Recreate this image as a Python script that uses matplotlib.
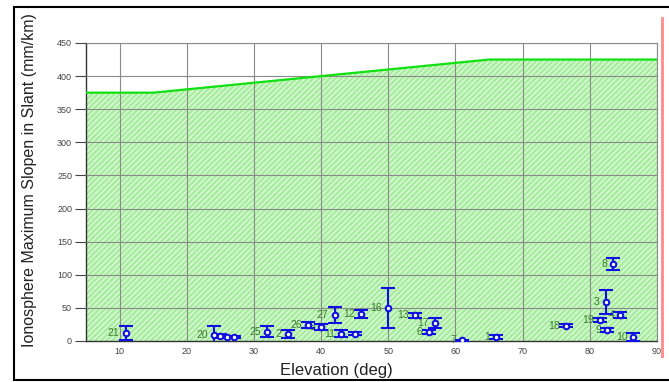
import matplotlib
matplotlib.use("Agg")
import matplotlib.pyplot as plt
from matplotlib.lines import Line2D
from matplotlib.patches import Rectangle

plt.rcParams['font.family'] = ['Liberation Sans', 'DejaVu Sans']
plt.rcParams['hatch.linewidth'] = 0.8

# Bound (upper limit of the shaded region)
bound_elev = [5, 15, 65, 90]
bound_val = [375, 375, 425, 425]

# Measured points
labels = ["21", "20", "24", "22", "23", "25", "2", "26", "5", "27", "12", "11", "14",
          "16", "13", "17", "6", "7", "1", "18", "19", "3", "8", "4", "9", "10"]
elev = [10.9, 24.0, 25.0, 26.0, 27.0, 32.0, 35.0, 38.0, 40.0, 42.0, 46.0, 43.0, 45.0,
        50.0, 54.0, 57.0, 56.0, 61.0, 66.0, 76.5, 81.5, 82.4, 83.5, 84.5, 82.6, 86.5]
slope = [12, 9, 7, 6, 6, 14, 11, 24, 21, 39, 41, 11, 11,
         50, 39, 27, 13, 1, 6, 23, 31, 59, 116, 39, 16, 6]
err = [10, 13, 3, 2, 2, 8, 6, 4, 5, 12, 6, 5, 2,
       30, 4, 8, 3, 1, 3, 2, 3, 18, 9, 5, 3, 6]
show_label = [True, True, False, False, False, True, True, True, True, True, True, True, False,
              True, True, True, True, True, True, True, True, True, True, True, True, True]

fig = plt.figure(figsize=(6.69, 3.82), dpi=100)
ax = fig.add_axes([86/669, 1-341/382, (657-86)/669, (341-43)/382])

ax.fill_between(bound_elev, 0, bound_val, facecolor='#a9eea0', edgecolor='#e8fce6',
                hatch='//////', linewidth=0, zorder=1)
ax.plot(bound_elev, bound_val, color='#11e011', lw=1.6, zorder=3)

ax.set_xlim(5, 90)
ax.set_ylim(0, 450)
ax.set_xticks(range(10, 91, 10))
ax.set_yticks(range(0, 451, 50))
ax.grid(True, color='#8a8a8a', lw=0.8, zorder=2)
ax.set_axisbelow(False)
for s in ['top', 'right']:
    ax.spines[s].set_color('#8a8a8a')
    ax.spines[s].set_linewidth(0.8)
for s in ['left', 'bottom']:
    ax.spines[s].set_color('#333333')
    ax.spines[s].set_linewidth(1.0)
ax.tick_params(axis='both', labelsize=6.5, colors='#444444', length=8, width=0.8, pad=2)
ax.tick_params(axis='x', length=0, pad=4)

ax.errorbar(elev, slope, yerr=err, fmt='o', color='#1010e0', mfc='white', mec='#1010e0',
            ms=4, mew=1.5, elinewidth=1.5, capsize=5, capthick=1.5, zorder=5)
for lb, x, y, sh in zip(labels, elev, slope, show_label):
    if sh:
        ax.text(x - 0.9, y, lb, fontsize=7.5, color='#3a7a2a', ha='right', va='center', zorder=4)

fig.text(30/669, 1-180/382, "Ionosphere Maximum Slopen in Slant (mm/km)", rotation=90,
         fontsize=11.5, color='#222222', ha='center', va='center')
fig.text(336/669, 1-370/382, "Elevation (deg)", fontsize=12, color='#222222', ha='center', va='center')

# outer frame
fig.add_artist(Line2D([14/669, 14/669], [1-7/382, 1-380/382], color='black', lw=1.5, transform=fig.transFigure))
fig.add_artist(Line2D([14/669, 1], [1-7/382, 1-7/382], color='black', lw=1.5, transform=fig.transFigure))
fig.add_artist(Line2D([14/669, 1], [1-380/382, 1-380/382], color='black', lw=1.5, transform=fig.transFigure))
fig.add_artist(Line2D([662/669, 662/669], [1-18/382, 1-356/382], color='#ff8a8a', lw=2, transform=fig.transFigure))

fig.savefig("out.png", dpi=100)
